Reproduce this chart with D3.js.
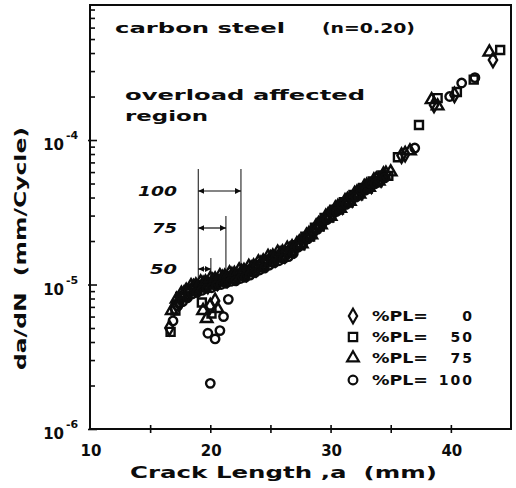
<!DOCTYPE html>
<html>
<head>
<meta charset="utf-8">
<script src="https://cdn.jsdelivr.net/npm/d3@7"></script>
<style>
  html, body { margin: 0; padding: 0; background: #fff; }
  svg { display: block; }
</style>
</head>
<body>
<svg id="chart" width="516" height="488"></svg>
<script>
// Crack length a (mm) and growth rate da/dN (in units of 1e-6 mm/cycle)
// for each peak-load overload ratio %PL.
const RATE_UNIT = 1e-6;

const pl0Length = [16.6,17.0,17.4,17.8,18.2,18.6,19.0,19.4,19.8,20.2,20.6,21.0,21.4,21.8,22.2,22.6,23.0,23.4,23.8,24.2,24.6,25.0,25.4,25.8,26.2,26.6,27.0,27.4,27.8,28.2,28.6,29.0,29.4,29.8,30.2,30.6,31.0,31.4,31.8,32.2,32.6,33.0,33.4,33.8,34.2,34.6,35.9,36.2,38.6,40.3,43.5,20.0,20.4];
const pl0Rate   = [5.0,6.9,7.4,8.6,8.6,9.6,9.3,10.1,9.8,10.6,10.3,11.1,10.8,11.6,11.3,12.2,11.9,12.9,12.8,13.9,13.9,15.2,15.0,16.2,15.9,17.3,17.4,19.5,19.8,22.3,22.9,26.1,26.9,30.2,30.8,34.3,34.7,38.4,38.9,43.2,43.5,48.1,48.4,53.2,53.3,58.3,78,80,175,205,358,7.1,7.7];

const pl50Length = [16.7,17.1,17.5,17.9,18.3,18.7,19.1,19.5,19.9,20.3,20.7,21.1,21.5,21.9,22.3,22.7,23.1,23.5,23.9,24.3,24.7,25.1,25.5,25.9,26.3,26.7,27.1,27.5,27.9,28.3,28.7,29.1,29.5,29.9,30.3,30.7,31.1,31.5,31.9,32.3,32.7,33.1,33.5,33.9,34.3,34.8,35.6,37.35,38.9,40.5,41.9,44.1,19.3,20.1];
const pl50Rate   = [4.7,6.6,8.2,8.2,9.3,9.1,9.9,9.6,10.4,10.1,10.9,10.5,11.4,11.0,11.9,11.6,12.6,12.3,13.6,13.3,14.8,14.4,15.9,15.4,17.0,16.6,18.7,18.7,21.4,21.5,24.7,25.2,28.9,29.1,33.0,33.0,37.1,36.9,41.6,41.5,46.5,46.2,51.6,51.0,56.8,56.5,76,127,195,215,262,420,7.5,6.3];

const pl75Length = [16.8,17.2,17.6,18.0,18.4,18.8,19.2,19.6,20.0,20.4,20.8,21.2,21.6,22.0,22.4,22.8,23.2,23.6,24.0,24.4,24.8,25.2,25.6,26.0,26.4,26.8,27.2,27.6,28.0,28.4,28.8,29.2,29.6,30.0,30.4,30.8,31.2,31.6,32.0,32.4,32.8,33.2,33.6,34.0,34.4,35.0,36.6,38.4,38.9,43.2,19.4,19.7,20.6];
const pl75Rate   = [6.6,7.9,8.7,9.1,9.8,9.9,10.4,10.4,11.0,10.9,11.5,11.4,12.0,11.9,12.6,12.5,13.3,13.4,14.3,14.5,15.6,15.7,16.7,16.8,17.8,18.2,19.1,19.1,21.9,22.0,25.4,25.8,29.6,29.6,33.8,33.6,37.9,37.6,42.6,42.2,47.6,47.0,52.8,51.9,58.0,60,84,190,172,406,6.6,5.8,6.8];

const pl100Length = [16.9,17.3,17.7,18.1,18.5,18.9,19.3,19.7,20.1,20.5,20.9,21.3,21.7,22.1,22.5,22.9,23.3,23.7,24.1,24.5,24.9,25.3,25.7,26.1,26.5,26.9,27.3,27.7,28.1,28.5,28.9,29.3,29.7,30.1,30.5,30.9,31.3,31.7,32.1,32.5,32.9,33.3,33.7,34.1,34.5,37.0,39.9,40.9,42.0,21.5,21.1,20.8,20.4,19.8,20.0];
const pl100Rate   = [5.6,7.1,7.6,8.1,8.6,8.8,9.1,9.4,9.5,9.8,10.0,10.2,10.5,10.6,11.0,11.2,11.6,12.1,12.6,13.0,13.6,14.1,14.6,15.1,15.6,16.4,18.1,20.6,20.7,23.7,24.1,27.8,28.1,31.9,32.0,36.0,35.9,40.3,40.3,45.2,45.0,50.2,49.9,52.8,54.7,88,200,248,270,7.9,6.0,4.8,4.2,4.6,2.07];

const overloadRatios = ["0", "50", "75", "100"];

// Axis ticks
const xTickValues = [15, 20, 25, 30, 35, 40];
const xTickLabels = [10, 20, 30, 40];
const yDecades = [1e-6, 1e-5, 1e-4];
const yDecadeExponents = ["-6", "-5", "-4"];

// Overload affected region: starts at the overload crack length,
// ends where the growth rate has recovered, per overload ratio.
const regionRatios = ["100", "75", "50"];
const regionStart = 19.0;
const regionEnd = [22.55, 21.3, 20.05];

// ---------------------------------------------------------------
const ink = "#0c0c0c";
const fontFamily = "'DejaVu Sans', 'Liberation Sans', sans-serif";
const svg = d3.select("#chart");

const x = d3.scaleLinear().domain([10, 45]).range([90, 511]);
const y = d3.scaleLog().domain([1e-6, 8.6e-4]).range([429, 5]);
const [xl, xr] = x.range();
const [yb, yt] = y.range();

// Plot frame
svg.append("rect")
  .attr("x", xl).attr("y", yt)
  .attr("width", xr - xl).attr("height", yb - yt)
  .attr("fill", "none").attr("stroke", ink).attr("stroke-width", 2);

// Logarithmic y ticks pointing into the plot
const yAxis = d3.axisLeft(y).tickValues(y.ticks()).tickSize(-5).tickFormat("");
const gy = svg.append("g").attr("transform", `translate(${xl},0)`).call(yAxis);
gy.select(".domain").remove();
gy.selectAll(".tick line")
  .attr("stroke", ink).attr("stroke-width", 1.6)
  .attr("x1", d => yDecades.includes(d) ? -2 : 0)
  .attr("x2", d => yDecades.includes(d) ? 7 : 5);

// Crossing x ticks
const xAxis = d3.axisBottom(x).tickValues(xTickValues).tickSize(4).tickFormat("");
const gx = svg.append("g").attr("transform", `translate(0,${yb})`).call(xAxis);
gx.select(".domain").remove();
gx.selectAll(".tick line").attr("y1", -4).attr("y2", 4)
  .attr("stroke", ink).attr("stroke-width", 1.6);

// x tick labels
svg.append("g").selectAll("text").data(xTickLabels).join("text")
  .attr("x", d => x(d) + 1).attr("y", yb + 27)
  .attr("text-anchor", "middle")
  .attr("font-family", fontFamily).attr("font-weight", "bold").attr("font-size", 15)
  .attr("fill", ink)
  .text(d => d);

// y decade labels: 10 with superscript exponent
const yl = svg.append("g").selectAll("g").data(yDecades).join("g");
yl.append("text")
  .attr("x", 64).attr("y", d => y(d) + 10)
  .attr("text-anchor", "end")
  .attr("font-family", fontFamily).attr("font-weight", "bold").attr("font-size", 15)
  .attr("fill", ink).text("10");
yl.append("text")
  .attr("x", 66).attr("y", (d, i) => y(d) - 1)
  .attr("font-family", fontFamily).attr("font-weight", "bold").attr("font-size", 11)
  .attr("fill", ink).text((d, i) => yDecadeExponents[i]);

// Axis titles
svg.append("text")
  .attr("x", 130).attr("y", 478)
  .attr("textLength", 307).attr("lengthAdjust", "spacingAndGlyphs")
  .attr("font-family", fontFamily).attr("font-weight", "bold").attr("font-size", 15)
  .style("white-space", "pre")
  .attr("fill", ink)
  .text("Crack Length ,a  (mm)");

svg.append("text")
  .attr("transform", "translate(26,370) rotate(-90)")
  .attr("textLength", 243).attr("lengthAdjust", "spacingAndGlyphs")
  .attr("font-family", fontFamily).attr("font-weight", "bold").attr("font-size", 15)
  .style("white-space", "pre")
  .attr("fill", ink)
  .text("da/dN  (mm/Cycle)");

// In-plot annotations
function note(str, px, py, len) {
  return svg.append("text")
    .attr("x", px).attr("y", py)
    .attr("textLength", len).attr("lengthAdjust", "spacingAndGlyphs")
    .attr("font-family", fontFamily).attr("font-weight", "bold").attr("font-size", 14)
    .attr("fill", ink).text(str);
}
note("carbon steel", 115, 33, 170);
note("(n=0.20)", 322, 33, 93);
note("overload affected", 125, 100, 240);
note("region", 125, 121, 83);

// Overload affected region brackets
const defs = svg.append("defs");
["arrowS", "arrowE"].forEach((id, k) => {
  defs.append("marker").attr("id", id)
    .attr("viewBox", "0 0 6 6").attr("refX", k ? 6 : 0).attr("refY", 3)
    .attr("markerWidth", 5).attr("markerHeight", 5).attr("orient", "auto")
    .append("path")
    .attr("d", k ? "M0,0L6,3L0,6Z" : "M6,0L0,3L6,6Z")
    .attr("fill", ink);
});
const rowY = [191, 228, 269];
const topY = [169, 216, 258];
const labelWidths = [39, 25, 27];
const curveRate = [1.12e-5, 1.05e-5, 0.99e-5];
const gReg = svg.append("g");
// common start line at the overload position
gReg.append("line")
  .attr("x1", x(regionStart)).attr("x2", x(regionStart))
  .attr("y1", topY[0]).attr("y2", y(0.96e-5))
  .attr("stroke", ink).attr("stroke-width", 1);
regionEnd.forEach((end, i) => {
  gReg.append("line")
    .attr("x1", x(end)).attr("x2", x(end))
    .attr("y1", topY[i]).attr("y2", y(curveRate[i]))
    .attr("stroke", ink).attr("stroke-width", 1);
  gReg.append("line")
    .attr("x1", x(regionStart)).attr("x2", x(end))
    .attr("y1", rowY[i]).attr("y2", rowY[i])
    .attr("stroke", ink).attr("stroke-width", 1.2)
    .attr("marker-start", "url(#arrowS)").attr("marker-end", "url(#arrowE)");
  gReg.append("text")
    .attr("x", 177 - labelWidths[i]).attr("y", rowY[i] + 5)
    .attr("textLength", labelWidths[i]).attr("lengthAdjust", "spacingAndGlyphs")
    .attr("font-family", fontFamily).attr("font-weight", "bold")
    .attr("font-style", "italic").attr("font-size", 14)
    .attr("fill", ink).text(regionRatios[i]);
});

// Data markers
const symbolTypes = [d3.symbolDiamond, d3.symbolSquare, d3.symbolTriangle, d3.symbolCircle];
const symbolSizes = [60, 64, 58, 56];
const seriesData = [
  [pl0Length, pl0Rate],
  [pl50Length, pl50Rate],
  [pl75Length, pl75Rate],
  [pl100Length, pl100Rate]
];
seriesData.forEach(([lens, rates], s) => {
  const pts = lens.map((a, i) => ({ a, r: rates[i] * RATE_UNIT }));
  svg.append("g").selectAll("path").data(pts).join("path")
    .attr("transform", d => `translate(${x(d.a)},${y(d.r)})`)
    .attr("d", d3.symbol().type(symbolTypes[s]).size(symbolSizes[s]))
    .attr("fill", "none").attr("stroke", ink).attr("stroke-width", 2.4);
});

// Legend
const legendRows = [321, 342, 363, 385];
const lg = svg.append("g").selectAll("g").data(overloadRatios).join("g");
lg.append("path")
  .attr("transform", (d, i) => `translate(353,${legendRows[i] - 5})`)
  .attr("d", (d, i) => d3.symbol().type(symbolTypes[i]).size([60, 70, 60, 60][i])())
  .attr("fill", "none").attr("stroke", ink).attr("stroke-width", 2.2);
lg.append("text")
  .attr("x", 372).attr("y", (d, i) => legendRows[i])
  .attr("textLength", 56).attr("lengthAdjust", "spacingAndGlyphs")
  .attr("font-family", fontFamily).attr("font-weight", "bold").attr("font-size", 14)
  .attr("fill", ink).text("%PL=");
lg.append("text")
  .attr("x", 474).attr("y", (d, i) => legendRows[i])
  .attr("text-anchor", "end")
  .attr("font-family", fontFamily).attr("font-weight", "bold").attr("font-size", 14)
  .attr("letter-spacing", 2)
  .attr("fill", ink).text(d => d);
</script>
</body>
</html>
